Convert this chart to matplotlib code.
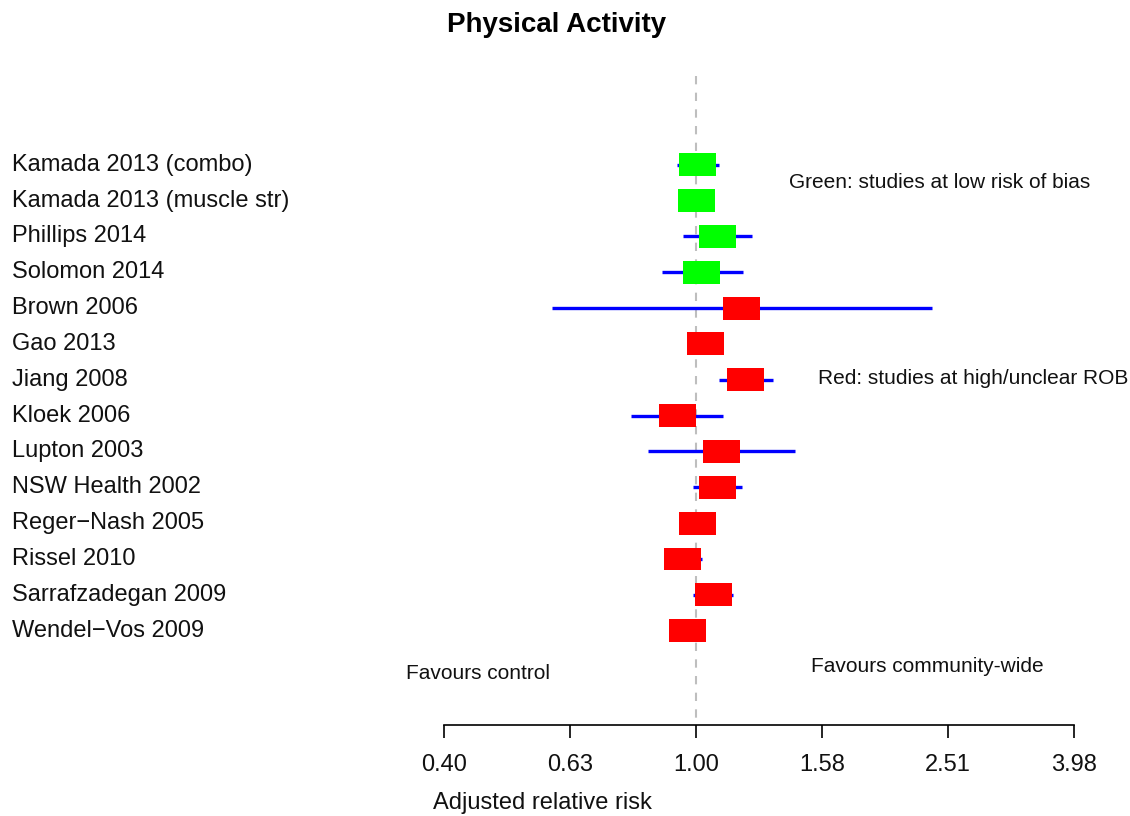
import numpy as np
import matplotlib
matplotlib.use("Agg")
import matplotlib.pyplot as plt
from matplotlib.patches import Rectangle
from matplotlib.transforms import blended_transform_factory

plt.rcParams["font.family"] = ["Liberation Sans", "DejaVu Sans"]

# 研究名称与估计值
studies = [
    "Kamada 2013 (combo)",
    "Kamada 2013 (muscle str)",
    "Phillips 2014",
    "Solomon 2014",
    "Brown 2006",
    "Gao 2013",
    "Jiang 2008",
    "Kloek 2006",
    "Lupton 2003",
    "NSW Health 2002",
    "Reger\u2212Nash 2005",
    "Rissel 2010",
    "Sarrafzadegan 2009",
    "Wendel\u2212Vos 2009",
]
rr = [1.007, 1.002, 1.082, 1.020, 1.179, 1.035, 1.198, 0.933, 1.098, 1.082, 1.007, 0.952, 1.066, 0.968]
lower = [0.933, 0.96, 0.954, 0.883, 0.591, 0.97, 1.088, 0.789, 0.839, 0.989, 0.97, 0.890, 0.989, 0.93]
upper = [1.088, 1.04, 1.227, 1.187, 2.370, 1.10, 1.325, 1.104, 1.436, 1.183, 1.05, 1.024, 1.145, 1.01]
low_rob = [True, True, True, True, False, False, False, False, False, False, False, False, False, False]

tick_labels = ["0.40", "0.63", "1.00", "1.58", "2.51", "3.98"]

W, H = 1130, 816
fig = plt.figure(figsize=(W / 100, H / 100), dpi=100)
ax = fig.add_axes([444 / W, 91 / H, 630 / W, 665 / H])

xmin, xmax = 10 ** -0.4, 10 ** 0.6
ax.set_xscale("log")
ax.set_xlim(xmin, xmax)
ax.set_ylim(16.68, -1.87)

rows = np.arange(1, len(studies) + 1)

# 参考线 RR = 1
ax.vlines(1.0, -1.43, 16.68, colors="#BEBEBE", linestyles=(0, (4, 4)), linewidth=1.5, zorder=1)

half = 10 ** 0.0294
for y, est, lo, hi, good in zip(rows, rr, lower, upper, low_rob):
    ax.plot([lo, hi], [y + 0.05, y + 0.05], color="#0000FF", linewidth=2.4, solid_capstyle="butt", zorder=2)
    color = "#00FF00" if good else "#FF0000"
    ax.add_patch(Rectangle((est / half, y - 0.27), est * half - est / half, 0.64,
                           facecolor=color, edgecolor="none", zorder=3))

trans = blended_transform_factory(fig.transFigure, ax.transData)
for y, name in zip(rows, studies):
    ax.text(12 / W, y + 0.05, name, transform=trans, ha="left", va="center", fontsize=17, color="#111111")

ax.text(1.405, 1.55, "Green: studies at low risk of bias", ha="left", va="center", fontsize=15, color="#111111")
ax.text(1.562, 7.02, "Red: studies at high/unclear ROB", ha="left", va="center", fontsize=15, color="#111111")
ax.text(0.3465, 15.25, "Favours control", ha="left", va="center", fontsize=15, color="#111111", clip_on=False)
ax.text(1.522, 15.05, "Favours community-wide", ha="left", va="center", fontsize=15, color="#111111")

for s in ["top", "left", "right"]:
    ax.spines[s].set_visible(False)
ax.spines["bottom"].set_bounds(xmin, xmax)
ax.spines["bottom"].set_linewidth(1.2)
ax.set_yticks([])
ax.set_xticks([10 ** v for v in [-0.4, -0.2, 0.0, 0.2, 0.4, 0.6]])
ax.set_xticklabels(tick_labels)
ax.minorticks_off()
ax.tick_params(axis="x", length=9, width=1.2, pad=12, labelsize=17, labelcolor="#111111")

fig.text(433 / W, 1 - 803 / H, "Adjusted relative risk", ha="left", va="center", fontsize=17, color="#111111")
fig.text(557 / W, 1 - 25 / H, "Physical Activity", ha="center", va="center", fontsize=20, fontweight="bold")

fig.savefig("out.png", dpi=100)
